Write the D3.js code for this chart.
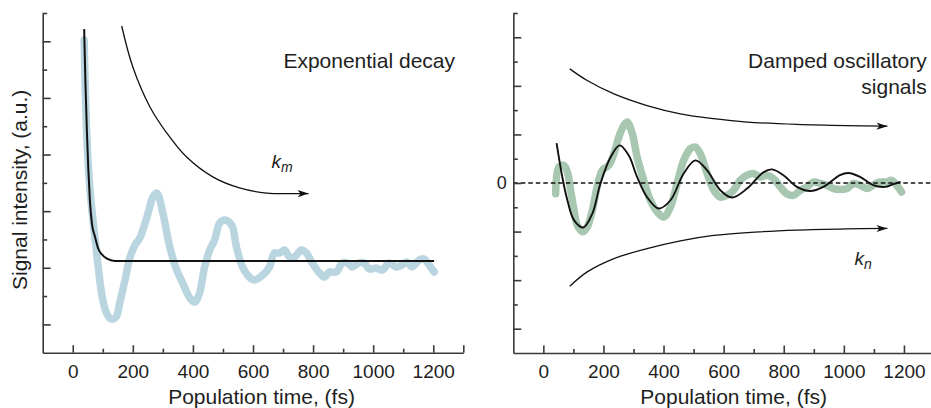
<!DOCTYPE html>
<html>
<head>
<meta charset="utf-8">
<script src="https://cdn.jsdelivr.net/npm/d3@7/dist/d3.min.js"></script>
<style>
  html, body { margin: 0; padding: 0; background: #fff; }
  svg { display: block; font-family: "Liberation Sans", Arial, sans-serif; }
</style>
</head>
<body>
<svg id="chart" width="931" height="408"></svg>
<script>
// ---------- data ----------
const xMajorTicks = [0, 200, 400, 600, 800, 1000, 1200, 1300];
const xMinorTicks = [100, 300, 500, 700, 900, 1100];
const leftYMajor = [1, 3, 5, 7, 9, 11];
const leftYMinor = [2, 4, 6, 8, 10, 12];
const rightYMajor = [-6, -4, -2, 0, 2, 4, 6];
const rightYMinor = [-5, -3, -1, 1, 3, 5, 7];

// Left panel: measured signal (light blue)
const decayTime = [38, 46, 56, 71, 84, 97, 111, 127, 144, 157, 174, 190, 207, 223, 247, 267, 280, 300, 323, 346, 366, 390, 406, 422, 439, 456, 472, 489, 506, 529, 545, 565, 588, 605, 632, 655, 671, 688, 705, 721, 738, 761, 778, 797, 821, 837, 854, 877, 897, 914, 930, 953, 970, 987, 1010, 1030, 1053, 1076, 1096, 1113, 1129, 1153, 1170, 1186, 1203];
const decaySignal = [11.05, 7.87, 5.92, 4.33, 3.10, 2.04, 1.44, 1.19, 1.26, 1.79, 2.57, 3.35, 3.80, 4.05, 4.79, 5.50, 5.64, 4.93, 3.73, 2.92, 2.46, 1.93, 1.79, 2.11, 3.03, 3.63, 3.98, 4.58, 4.69, 4.51, 3.73, 3.03, 2.67, 2.57, 2.74, 3.03, 3.52, 3.52, 3.63, 3.38, 3.38, 3.63, 3.52, 3.17, 2.82, 2.67, 2.85, 2.85, 3.17, 3.17, 3.03, 3.17, 3.17, 2.96, 2.99, 2.92, 3.17, 3.03, 3.10, 3.20, 3.03, 3.27, 3.31, 3.10, 2.85];
// Left panel: exponential fit (black)
const decayFitTime = [38, 42, 47, 52, 57, 64, 74, 84, 97, 114, 140, 1203];
const decayFitSignal = [11.43, 9.63, 7.86, 6.45, 5.39, 4.55, 4.10, 3.70, 3.47, 3.32, 3.24, 3.24];
// Left panel: k_m arrow
const kmArrowTime = [163, 200, 257, 313, 379, 466, 555, 645, 744, 785];
const kmArrowValue = [11.54, 10.09, 8.68, 7.76, 6.91, 6.21, 5.82, 5.64, 5.62, 5.62];

// Right panel: oscillatory signal (green)
const oscTime = [41, 52, 68, 80, 91, 102, 113, 130, 146, 163, 179, 196, 218, 235, 251, 268, 279, 296, 312, 334, 356, 379, 401, 423, 445, 467, 489, 506, 522, 545, 567, 589, 611, 633, 655, 678, 699, 722, 744, 766, 788, 810, 832, 855, 877, 899, 921, 943, 965, 987, 1010, 1032, 1054, 1076, 1098, 1120, 1143, 1159, 1176, 1192];
const oscSignal = [-0.44, 0.66, 0.73, 0.45, -0.30, -1.12, -1.74, -2.01, -1.81, -1.12, -0.16, 0.52, 0.73, 1.21, 1.89, 2.37, 2.51, 2.03, 1.07, 0.11, -0.71, -1.19, -1.40, -0.99, -0.02, 0.93, 1.41, 1.48, 1.21, 0.39, -0.30, -0.58, -0.51, -0.30, 0.11, 0.32, 0.39, 0.25, 0.32, 0.18, -0.16, -0.44, -0.51, -0.30, -0.16, 0.04, -0.02, -0.09, -0.23, -0.27, -0.23, -0.02, -0.09, -0.23, -0.09, 0.04, 0.04, 0.11, -0.09, -0.37];
// Right panel: damped oscillation fit (black)
const oscFitTime = [44, 63, 80, 102, 133, 163, 190, 224, 254, 284, 312, 345, 384, 423, 467, 506, 545, 589, 628, 678, 733, 761, 799, 844, 888, 932, 987, 1015, 1054, 1098, 1137, 1164, 1189];
const oscFitSignal = [1.64, 0.25, -0.71, -1.53, -1.83, -1.26, -0.02, 1.07, 1.55, 1.14, 0.25, -0.58, -1.05, -0.71, 0.39, 0.93, 0.52, -0.30, -0.60, -0.23, 0.45, 0.56, 0.32, -0.16, -0.33, -0.16, 0.32, 0.41, 0.25, -0.09, -0.16, -0.05, 0.04];
// Right panel: envelope arrows
const envTime = [88, 146, 235, 345, 456, 567, 678, 844, 1010, 1145];
const envUpper = [4.70, 4.22, 3.67, 3.19, 2.85, 2.65, 2.51, 2.41, 2.36, 2.34];
const envLower = [-4.25, -3.66, -3.11, -2.70, -2.38, -2.16, -2.04, -1.94, -1.89, -1.87];

// ---------- drawing ----------
const svg = d3.select("#chart");
const axisColor = "#3a3a3a";
const textColor = "#1e1e1e";
const zip = (a, b) => a.map((v, i) => [v, b[i]]);

const defs = svg.append("defs");
defs.append("marker")
  .attr("id", "arrowhead")
  .attr("markerUnits", "userSpaceOnUse")
  .attr("viewBox", "-12 -5 14 10")
  .attr("refX", 0).attr("refY", 0)
  .attr("markerWidth", 14).attr("markerHeight", 10)
  .attr("orient", "auto")
  .append("path")
  .attr("d", "M0,0 L-11,-3.6 L-8,0 L-11,3.6 Z")
  .attr("fill", "#111");

function drawAxes(g, x, y, yMajor, yMinor, yLabelZero) {
  const yMaj = d3.axisLeft(y).tickValues(yMajor).tickSize(-8).tickSizeOuter(0)
    .tickPadding(6.5).tickFormat(d => (yLabelZero && d === 0) ? "0" : "");
  const gy = g.append("g").attr("transform", `translate(${x.range()[0]},0)`).call(yMaj);
  const yMin = d3.axisLeft(y).tickValues(yMinor).tickSize(-4.5).tickSizeOuter(0).tickFormat("");
  const gy2 = g.append("g").attr("transform", `translate(${x.range()[0]},0)`).call(yMin);
  gy2.select(".domain").remove();
  const xMaj = d3.axisBottom(x).tickValues(xMajorTicks).tickSize(-7.5).tickSizeOuter(0)
    .tickPadding(11.5).tickFormat(d => d === 1300 ? "" : d);
  const gx = g.append("g").attr("transform", `translate(0,${y.range()[0]})`).call(xMaj);
  const xMin = d3.axisBottom(x).tickValues(xMinorTicks).tickSize(-4).tickSizeOuter(0).tickFormat("");
  const gx2 = g.append("g").attr("transform", `translate(0,${y.range()[0]})`).call(xMin);
  gx2.select(".domain").remove();

  [gy, gy2, gx, gx2].forEach(s => {
    s.selectAll("path, line").attr("stroke", axisColor).attr("stroke-width", 1.6);
    s.selectAll("text").attr("fill", textColor).attr("font-size", 19)
      .attr("font-family", "'Liberation Sans', Arial, sans-serif");
  });
  gy.selectAll("text").attr("font-size", 18);
}

// ----- Left panel -----
const xL = d3.scaleLinear().domain([-100, 1300]).range([42.7, 463.3]);
const yL = d3.scaleLinear().domain([0, 12]).range([352.7, 13]);
const gL = svg.append("g");

gL.append("path")
  .datum(zip(decayTime, decaySignal))
  .attr("d", d3.line().x(d => xL(d[0])).y(d => yL(d[1])).curve(d3.curveCatmullRom.alpha(0.5)))
  .attr("fill", "none").attr("stroke", "#b9d5df").attr("stroke-width", 7.5)
  .attr("stroke-linecap", "round").attr("stroke-linejoin", "round");
gL.append("path")
  .datum(zip(decayFitTime, decayFitSignal))
  .attr("d", d3.line().x(d => xL(d[0])).y(d => yL(d[1])).curve(d3.curveMonotoneX))
  .attr("fill", "none").attr("stroke", "#111").attr("stroke-width", 2);
gL.append("path")
  .datum(zip(kmArrowTime, kmArrowValue))
  .attr("d", d3.line().x(d => xL(d[0])).y(d => yL(d[1])).curve(d3.curveCatmullRom.alpha(0.5)))
  .attr("fill", "none").attr("stroke", "#111").attr("stroke-width", 1.3)
  .attr("marker-end", "url(#arrowhead)");

drawAxes(gL, xL, yL, leftYMajor, leftYMinor, false);

gL.append("text")
  .attr("transform", `translate(26.5,${(yL.range()[0] + yL.range()[1]) / 2 + 7}) rotate(-90)`)
  .attr("text-anchor", "middle").attr("font-size", 21).attr("fill", textColor)
  .text("Signal intensity, (a.u.)");
gL.append("text")
  .attr("x", xL(600) + 8.5).attr("y", 403.5)
  .attr("text-anchor", "middle").attr("font-size", 21).attr("fill", textColor)
  .text("Population time, (fs)");
gL.append("text")
  .attr("x", 455).attr("y", 68.3)
  .attr("text-anchor", "end").attr("font-size", 21).attr("fill", textColor)
  .text("Exponential decay");
const km = gL.append("text").attr("x", 271.5).attr("y", 168.3)
  .attr("font-size", 19).attr("font-style", "italic").attr("fill", textColor);
km.append("tspan").text("k");
km.append("tspan").attr("dy", 3.6).attr("font-size", 14).text("m");

// ----- Right panel -----
const xR = d3.scaleLinear().domain([-100, 1300]).range([513.3, 934]);
const yR = d3.scaleLinear().domain([-7, 7]).range([353, 13]);
const gR = svg.append("g");

gR.append("path")
  .datum(zip(oscTime, oscSignal))
  .attr("d", d3.line().x(d => xR(d[0])).y(d => yR(d[1])).curve(d3.curveCatmullRom.alpha(0.5)))
  .attr("fill", "none").attr("stroke", "#a7c7b0").attr("stroke-width", 7.5)
  .attr("stroke-linecap", "round").attr("stroke-linejoin", "round");
gR.append("line")
  .attr("x1", xR(-100)).attr("x2", 931).attr("y1", yR(0)).attr("y2", yR(0))
  .attr("stroke", "#111").attr("stroke-width", 1.3).attr("stroke-dasharray", "4.5,3");
gR.append("path")
  .datum(zip(oscFitTime, oscFitSignal))
  .attr("d", d3.line().x(d => xR(d[0])).y(d => yR(d[1])).curve(d3.curveCatmullRom.alpha(0.5)))
  .attr("fill", "none").attr("stroke", "#111").attr("stroke-width", 1.9);
[envUpper, envLower].forEach(vals => {
  gR.append("path")
    .datum(zip(envTime, vals))
    .attr("d", d3.line().x(d => xR(d[0])).y(d => yR(d[1])).curve(d3.curveCatmullRom.alpha(0.5)))
    .attr("fill", "none").attr("stroke", "#111").attr("stroke-width", 1.3)
    .attr("marker-end", "url(#arrowhead)");
});

drawAxes(gR, xR, yR, rightYMajor, rightYMinor, true);

gR.append("text")
  .attr("x", xR(600) + 10).attr("y", 403.5)
  .attr("text-anchor", "middle").attr("font-size", 21).attr("fill", textColor)
  .text("Population time, (fs)");
const dampText = gR.append("text").attr("text-anchor", "end").attr("font-size", 21).attr("fill", textColor);
dampText.append("tspan").attr("x", 926.7).attr("y", 68.3).text("Damped oscillatory");
dampText.append("tspan").attr("x", 926.7).attr("y", 94).text("signals");
const kn = gR.append("text").attr("x", 854.5).attr("y", 265)
  .attr("font-size", 19).attr("font-style", "italic").attr("fill", textColor);
kn.append("tspan").text("k");
kn.append("tspan").attr("dy", 3.6).attr("font-size", 14).text("n");
</script>
</body>
</html>
